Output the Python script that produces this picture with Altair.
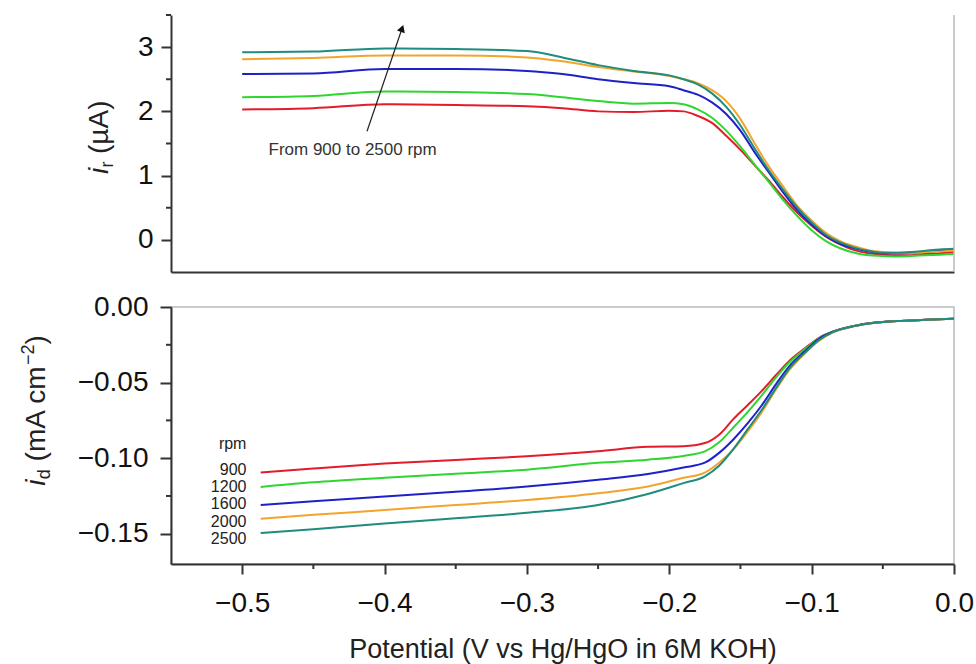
import altair as alt
import pandas as pd

RPM = ["900", "1200", "1600", "2000", "2500"]
COLORS = ["#e31b2b", "#2fd62f", "#2020c8", "#f2a42c", "#1e8c7e"]

# ---------- top panel: ring current i_r (uA) ----------
x_top = [-0.5, -0.45, -0.4, -0.35, -0.3, -0.275, -0.25, -0.225, -0.2, -0.19, -0.18,
         -0.17, -0.16, -0.15, -0.14, -0.13, -0.12, -0.11, -0.1, -0.09, -0.08, -0.07,
         -0.06, -0.05, -0.04, -0.03, -0.02, -0.01, 0.0]
ir_900 = [2.03, 2.05, 2.11, 2.10, 2.08, 2.05, 2.00, 1.99, 2.01, 2.00, 1.93, 1.82, 1.62,
          1.40, 1.16, 0.92, 0.66, 0.42, 0.22, 0.05, -0.07, -0.16, -0.21, -0.23, -0.24,
          -0.24, -0.22, -0.21, -0.19]
ir_1200 = [2.22, 2.24, 2.31, 2.30, 2.27, 2.22, 2.16, 2.12, 2.13, 2.11, 2.03, 1.90, 1.70,
           1.45, 1.17, 0.90, 0.62, 0.37, 0.15, -0.02, -0.13, -0.20, -0.24, -0.25, -0.26,
           -0.25, -0.24, -0.23, -0.22]
ir_1600 = [2.58, 2.59, 2.66, 2.66, 2.63, 2.58, 2.50, 2.44, 2.39, 2.33, 2.26, 2.14, 1.96,
           1.70, 1.36, 1.05, 0.74, 0.46, 0.24, 0.06, -0.06, -0.13, -0.18, -0.21, -0.21,
           -0.20, -0.19, -0.17, -0.16]
ir_2000 = [2.81, 2.83, 2.87, 2.87, 2.84, 2.78, 2.69, 2.62, 2.55, 2.50, 2.44, 2.33, 2.16,
           1.88, 1.50, 1.14, 0.83, 0.53, 0.30, 0.11, -0.02, -0.10, -0.16, -0.19, -0.20,
           -0.20, -0.19, -0.18, -0.17]
ir_2500 = [2.92, 2.93, 2.98, 2.97, 2.94, 2.84, 2.72, 2.63, 2.56, 2.50, 2.42, 2.28, 2.07,
           1.78, 1.42, 1.08, 0.78, 0.50, 0.27, 0.08, -0.04, -0.12, -0.17, -0.20, -0.20,
           -0.19, -0.17, -0.15, -0.14]

# ---------- bottom panel: disk current density i_d (mA cm-2) ----------
x_bot = [-0.487, -0.45, -0.4, -0.35, -0.3, -0.25, -0.215, -0.19, -0.175, -0.165, -0.155,
         -0.145, -0.135, -0.125, -0.115, -0.105, -0.095, -0.085, -0.07, -0.055, -0.04,
         -0.02, 0.0]
id_900 = [-0.1094, -0.1068, -0.1036, -0.1012, -0.0987, -0.0954, -0.0925, -0.0921, -0.0900,
          -0.0845, -0.0742, -0.0650, -0.0555, -0.0450, -0.0350, -0.0275, -0.0205, -0.0163,
          -0.0125, -0.0103, -0.0093, -0.0085, -0.0078]
id_1200 = [-0.1190, -0.1160, -0.1130, -0.1103, -0.1076, -0.1031, -0.1010, -0.0985, -0.0955,
           -0.0895, -0.0797, -0.0695, -0.0585, -0.0465, -0.0360, -0.0280, -0.0207, -0.0163,
           -0.0125, -0.0103, -0.0093, -0.0085, -0.0078]
id_1600 = [-0.1310, -0.1285, -0.1254, -0.1222, -0.1188, -0.1143, -0.1105, -0.1062, -0.1030,
           -0.0965, -0.0876, -0.0770, -0.0650, -0.0510, -0.0385, -0.0295, -0.0212, -0.0164,
           -0.0125, -0.0103, -0.0093, -0.0085, -0.0078]
id_2000 = [-0.1400, -0.1375, -0.1343, -0.1310, -0.1277, -0.1232, -0.1188, -0.1130, -0.1095,
           -0.1030, -0.0942, -0.0825, -0.0695, -0.0545, -0.0410, -0.0310, -0.0225, -0.0168,
           -0.0126, -0.0104, -0.0093, -0.0085, -0.0078]
id_2500 = [-0.1495, -0.1470, -0.1432, -0.1398, -0.1361, -0.1310, -0.1237, -0.1165, -0.1120,
           -0.1050, -0.0940, -0.0810, -0.0680, -0.0535, -0.0400, -0.0305, -0.0220, -0.0166,
           -0.0126, -0.0104, -0.0093, -0.0085, -0.0078]

# ticks
top_major = [0, 1, 2, 3]
top_minor = [0.5, 1.5, 2.5, 3.5]
bot_major = [0.0, -0.05, -0.10, -0.15]
bot_minor = [-0.025, -0.075, -0.125]
x_major = [-0.5, -0.4, -0.3, -0.2, -0.1, 0.0]
x_minor = [-0.45, -0.35, -0.25, -0.15, -0.05]

# annotations
arrow = pd.DataFrame({"x": [-0.4123], "y": [1.69], "x2": [-0.3877], "y2": [3.29]})
arrow_head = pd.DataFrame({"x": [-0.3877], "y": [3.29]})
note = pd.DataFrame({"x": [-0.4815], "y": [1.40], "t": ["From 900 to 2500 rpm"]})
rpm_labels = pd.DataFrame({"x": [-0.497] * 6,
                           "y": [-0.0909, -0.1076, -0.1192, -0.1303, -0.1422, -0.1533],
                           "t": ["rpm"] + RPM})

W, H = 783, 257
FONT = "Liberation Sans"
AXC = "#333333"

top_rows = []
for r, ys in zip(RPM, [ir_900, ir_1200, ir_1600, ir_2000, ir_2500]):
    for xv, yv in zip(x_top, ys):
        top_rows.append({"x": xv, "y": yv, "rpm": r})
df_top = pd.DataFrame(top_rows)

bot_rows = []
for r, ys in zip(RPM, [id_900, id_1200, id_1600, id_2000, id_2500]):
    for xv, yv in zip(x_bot, ys):
        bot_rows.append({"x": xv, "y": yv, "rpm": r})
df_bot = pd.DataFrame(bot_rows)

xscale = alt.Scale(domain=[-0.55, 0.0], nice=False, zero=False)
yscale_top = alt.Scale(domain=[-0.5, 3.5], nice=False, zero=False)
yscale_bot = alt.Scale(domain=[-0.17, 0.0], nice=False, zero=False)
cscale = alt.Scale(domain=RPM, range=COLORS)

ax_top_x = alt.Axis(title=None, labels=False, ticks=False, grid=False,
                    domainColor=AXC, domainWidth=2)
ax_top_y = alt.Axis(title=None, values=top_major, format="d", grid=False,
                    labelFontSize=28, labelFont=FONT, labelColor="#111111",
                    labelPadding=8, tickSize=10, tickWidth=2, tickColor=AXC,
                    domainColor=AXC, domainWidth=2)
ax_bot_x = alt.Axis(title="Potential (V vs Hg/HgO in 6M KOH)", values=x_major,
                    format=".1f", grid=False, labelFontSize=28, labelFont=FONT,
                    labelColor="#111111", labelFlush=False, labelOverlap=False,
                    labelPadding=15, tickSize=10, tickWidth=2, tickColor=AXC,
                    domainColor=AXC, domainWidth=2, titleFontSize=27,
                    titleFont=FONT, titleFontWeight="normal", titleColor="#222222",
                    titlePadding=19)
ax_bot_y = alt.Axis(title=None, values=bot_major, format=".2f", grid=False,
                    labelFontSize=28, labelFont=FONT, labelColor="#111111",
                    labelPadding=12, tickSize=11, tickWidth=2, tickColor=AXC,
                    domainColor=AXC, domainWidth=2)


def text_piece(txt, x, y, size, italic=False):
    kw = dict(angle=270, align="left", baseline="alphabetic", fontSize=size,
              font=FONT, color="#222222")
    if italic:
        kw["fontStyle"] = "italic"
    return alt.Chart(pd.DataFrame({"t": [txt]})).mark_text(**kw).encode(
        x=alt.value(x), y=alt.value(y), text="t:N")


# ---------------- top chart ----------------
tx = alt.X("x:Q", scale=xscale, axis=ax_top_x)
ty = alt.Y("y:Q", scale=yscale_top, axis=ax_top_y)

top_lines = alt.Chart(df_top).mark_line(strokeWidth=2, interpolate="monotone").encode(
    x=tx, y=ty,
    color=alt.Color("rpm:N", scale=cscale, legend=None),
    detail="rpm:N",
)
top_minor_ticks = alt.Chart(pd.DataFrame({"y": top_minor})).mark_rule(
    color=AXC, strokeWidth=2).encode(y=ty, x=alt.value(-5), x2=alt.value(0))
top_right = alt.Chart(pd.DataFrame({"a": [0]})).mark_rule(
    color="#bbbbbb", strokeWidth=1.5).encode(
    x=alt.value(W), y=alt.value(0), y2=alt.value(H))
arrow_line = alt.Chart(arrow).mark_rule(color="#222222", strokeWidth=1.2).encode(
    x=tx, y=ty, x2="x2:Q", y2="y2:Q")
arrow_tip = alt.Chart(arrow_head).mark_point(
    shape="triangle-up", filled=True, size=70, angle=19, color="#111111", opacity=1).encode(
    x=tx, y=ty)
note_text = alt.Chart(note).mark_text(
    align="left", baseline="middle", fontSize=17, font=FONT, color="#333333").encode(
    x=tx, y=ty, text="t:N")

top_title = [
    text_piece("i", -63, 159, 28, italic=True),
    text_piece("r", -58, 152.5, 18),
    text_piece("(µA)", -63, 139, 28),
]

top = alt.layer(top_lines, top_minor_ticks, top_right, arrow_line, arrow_tip,
                note_text, *top_title).properties(
    width=W, height=H, view=alt.ViewBackground(stroke="transparent"))

# ---------------- bottom chart ----------------
bx = alt.X("x:Q", scale=xscale, axis=ax_bot_x)
by = alt.Y("y:Q", scale=yscale_bot, axis=ax_bot_y)

bot_lines = alt.Chart(df_bot).mark_line(strokeWidth=2, interpolate="monotone").encode(
    x=bx, y=by,
    color=alt.Color("rpm:N", scale=cscale, legend=None),
    detail="rpm:N",
)
bot_minor_y = alt.Chart(pd.DataFrame({"y": bot_minor})).mark_rule(
    color=AXC, strokeWidth=2).encode(y=by, x=alt.value(-5), x2=alt.value(0))
bot_minor_x = alt.Chart(pd.DataFrame({"x": x_minor})).mark_rule(
    color=AXC, strokeWidth=2).encode(x=bx, y=alt.value(H), y2=alt.value(H + 5))
rpm_text = alt.Chart(rpm_labels).mark_text(
    align="right", baseline="middle", fontSize=16, font=FONT, color="#222222").encode(
    x=bx, y=by, text="t:N")

bot_title = [
    text_piece("i", -126, 178.7, 28, italic=True),
    text_piece("d", -121, 172.2, 18),
    text_piece("(mA cm", -126, 154.4, 28),
    text_piece("−2", -137, 58, 18),
    text_piece(")", -126, 37.5, 28),
]

bottom = alt.layer(bot_lines, bot_minor_y, bot_minor_x, rpm_text, *bot_title).properties(
    width=W, height=H, view=alt.ViewBackground(stroke="#bbbbbb", strokeWidth=1.5))

chart = alt.vconcat(top, bottom, spacing=18).properties(
    autosize=alt.AutoSizeParams(type="none"),
    padding={"left": 171, "top": 15, "right": 22, "bottom": 649},
).configure(background="white")

chart.save("out.html", embed_options={"renderer": "svg", "actions": False})
